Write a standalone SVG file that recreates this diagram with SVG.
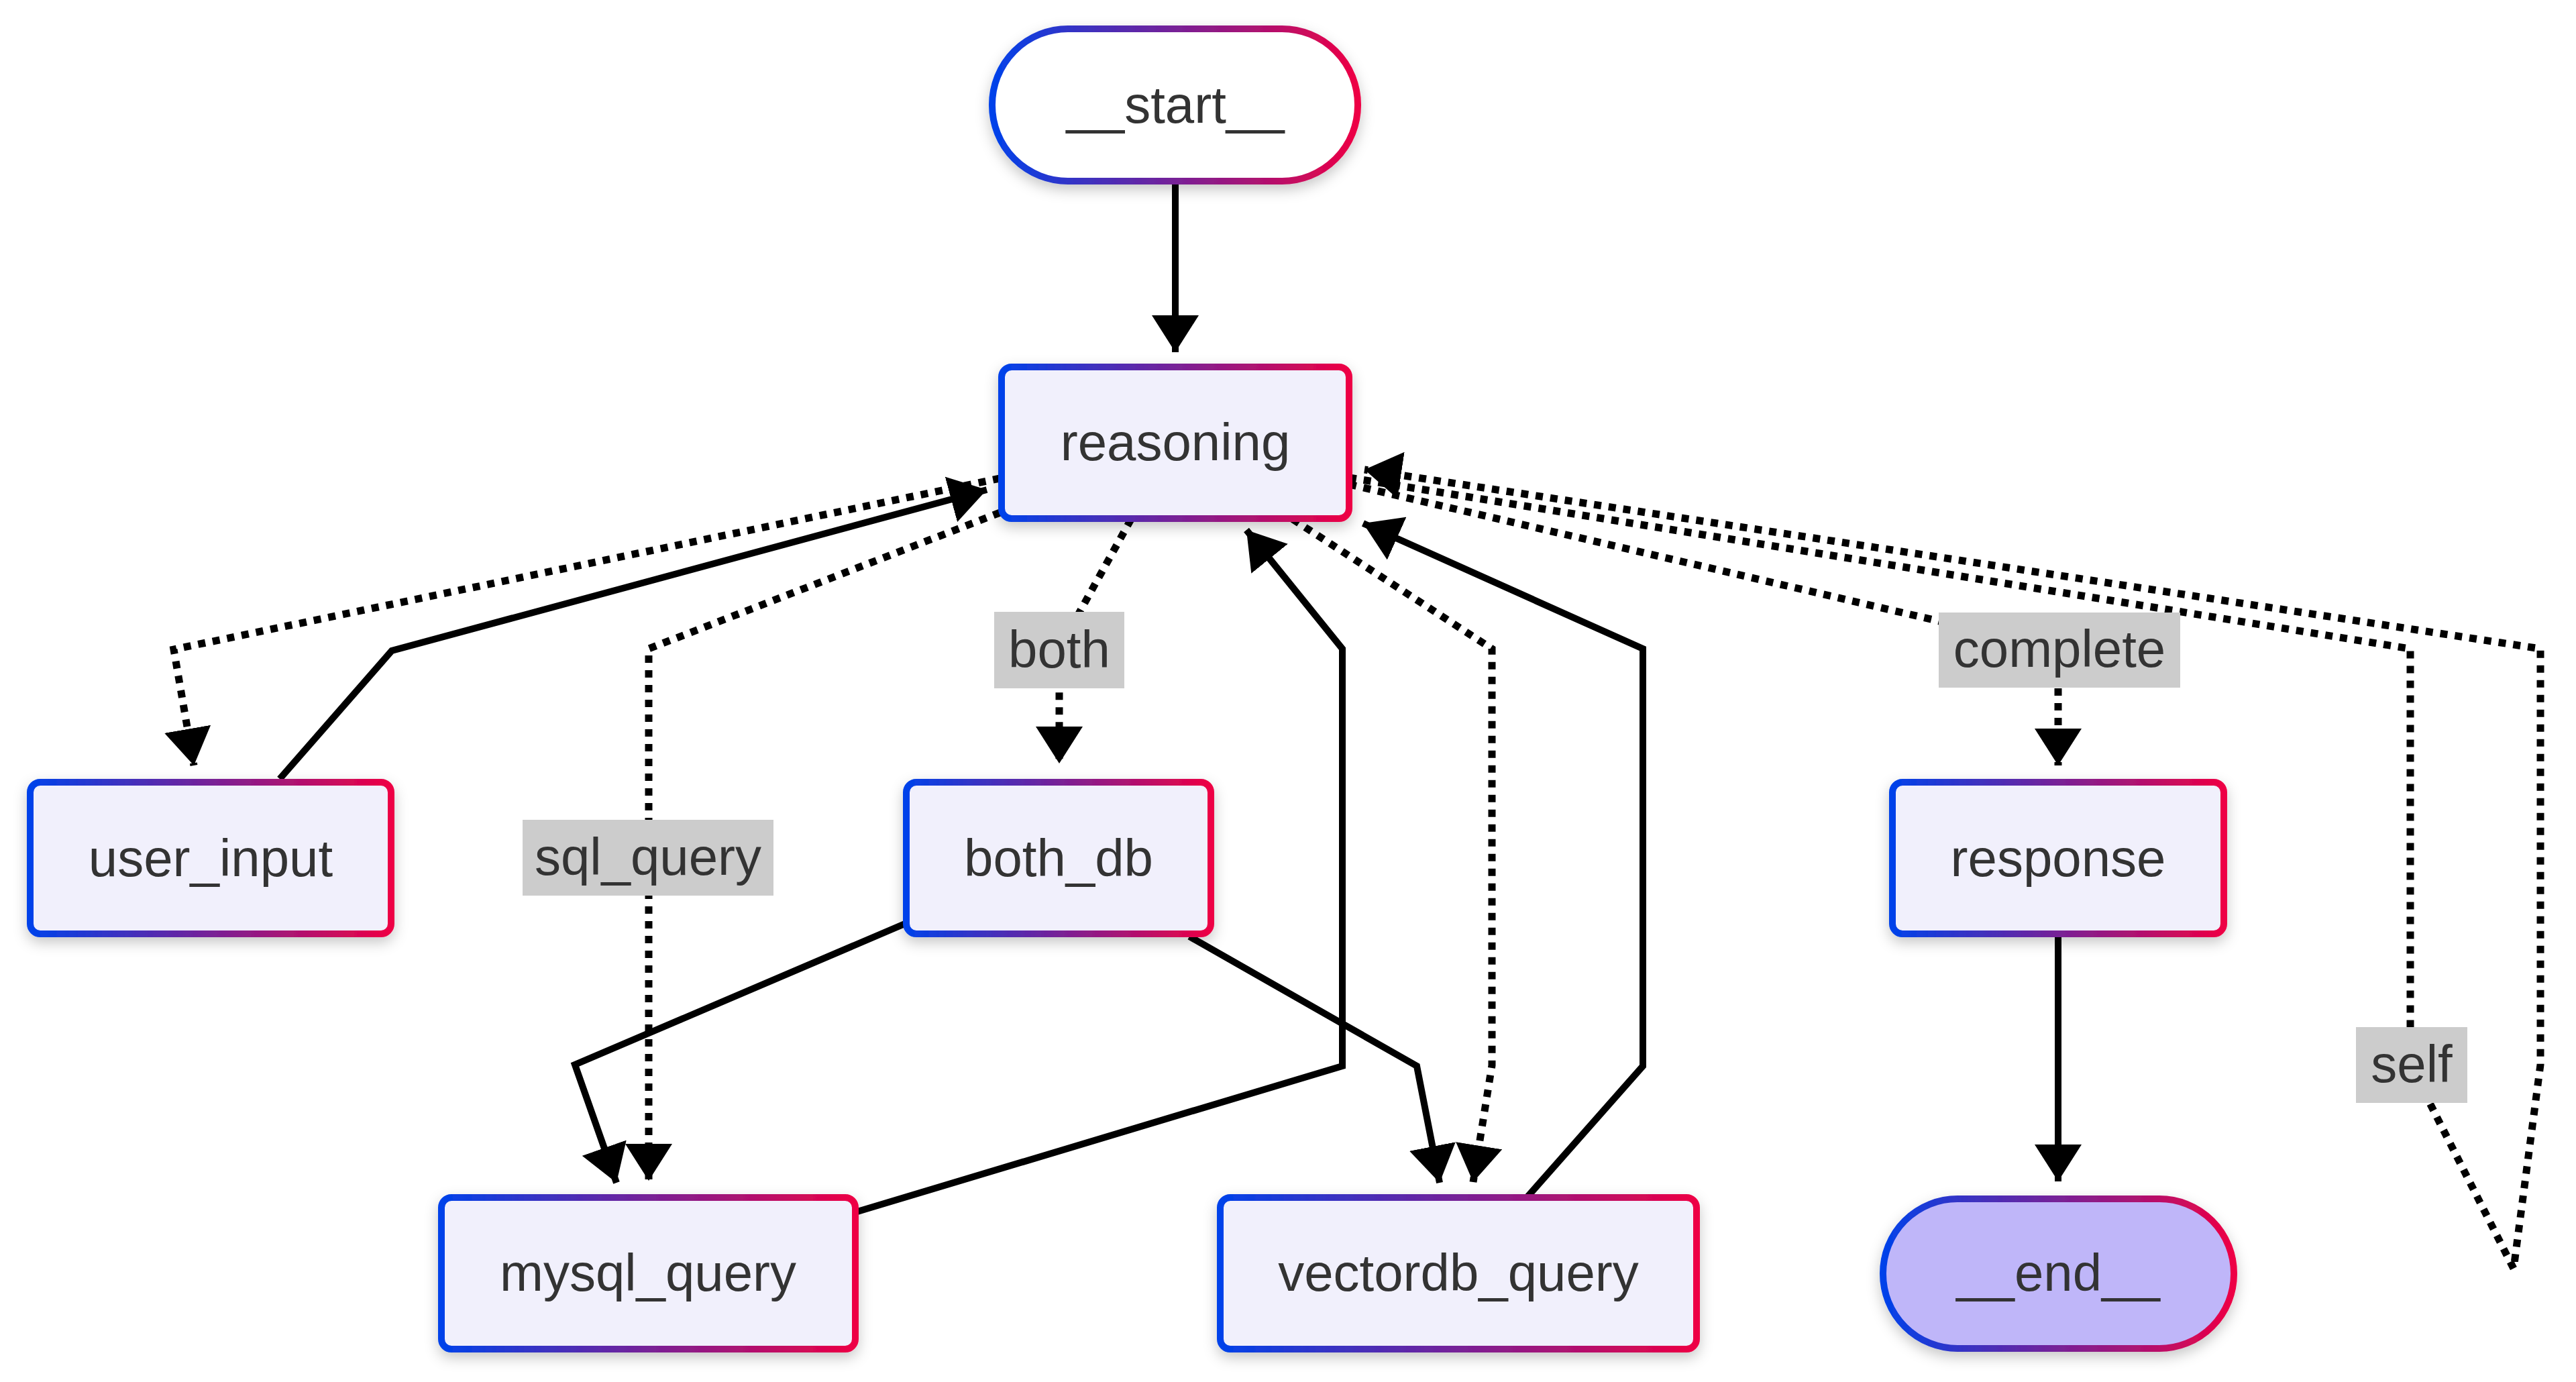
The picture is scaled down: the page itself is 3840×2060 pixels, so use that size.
<svg xmlns="http://www.w3.org/2000/svg" width="3840" height="2060" viewBox="0 0 3840 2060">
<defs>
<linearGradient id="g" x1="0" y1="0" x2="1" y2="0">
<stop offset="0" stop-color="#0042ea"/>
<stop offset="1" stop-color="#ee0044"/>
</linearGradient>
<filter id="sh" x="-20%" y="-30%" width="140%" height="170%">
<feDropShadow dx="0" dy="8" stdDeviation="10" flood-color="#000" flood-opacity="0.22"/>
</filter>
<marker id="arr" viewBox="0 0 55 70" refX="55" refY="35" markerWidth="55" markerHeight="70" markerUnits="userSpaceOnUse" orient="auto">
<path d="M0,0 L55,35 L0,70 Z" fill="#000"/>
</marker>
</defs>
<style>
.node{fill:#f1f0fc;stroke:url(#g);stroke-width:10;filter:url(#sh)}
.t{font-family:"Liberation Sans",Arial,sans-serif;font-size:78px;fill:#333;text-anchor:middle}
.e{fill:none;stroke:#000;stroke-width:10;stroke-linejoin:miter}
.d{stroke-width:11;stroke-dasharray:11 11}
.lb{fill:#cccccc}
</style>
<rect width="3840" height="2060" fill="#fff"/>
<g id="connectors">
<path class="e" d="M1752,270 L1752,525" marker-end="url(#arr)"/>
<path class="e d" d="M1491,713 L259,968 L289,1141" marker-end="url(#arr)"/>
<path class="e" d="M417,1161 L584,970 L1471,730" marker-end="url(#arr)"/>
<path class="e d" d="M1491,764 L967,967 L967,1760" marker-end="url(#arr)"/>
<path class="e d" d="M1686,774 L1579,967 L1579,1138" marker-end="url(#arr)"/>
<path class="e d" d="M1927,774 L2224,967 L2224,1588 L2196,1762" marker-end="url(#arr)"/>
<path class="e" d="M1351,1376 L857,1587 L919,1763" marker-end="url(#arr)"/>
<path class="e" d="M1773,1396 L2112,1589 L2146,1763" marker-end="url(#arr)"/>
<path class="e" d="M1278,1806 L2001,1589 L2001,967 L1858,790" marker-end="url(#arr)"/>
<path class="e" d="M2276,1785 L2449,1589 L2449,967 L2032,780" marker-end="url(#arr)"/>
<path class="e d" d="M2011,722 L3068,967 L3068,1141" marker-end="url(#arr)"/>
<path class="e d" d="M2011,712 L3593,967 L3593,1587 L3747,1891 L3787,1587 L3787,967 L2034,700" marker-end="url(#arr)"/>
<path class="e" d="M3068,1390 L3068,1761" marker-end="url(#arr)"/>
</g>
<g id="edge-labels">
<g id="label-both"><rect class="lb" x="1482" y="912" width="194" height="114"/><text class="t" x="1579" y="995">both</text></g>
<g id="label-sql_query"><rect class="lb" x="779" y="1222" width="374" height="113"/><text class="t" x="966" y="1304">sql_query</text></g>
<g id="label-complete"><rect class="lb" x="2890" y="913" width="360" height="112"/><text class="t" x="3070" y="994">complete</text></g>
<g id="label-self"><rect class="lb" x="3512" y="1531" width="166" height="113"/><text class="t" x="3595" y="1613">self</text></g>
</g>
<g id="node-start"><rect class="node" x="1479" y="43" width="545" height="227" rx="113" ry="113" style="fill:#ffffff"/><text class="t" x="1752" y="183">__start__</text></g>
<g id="node-reasoning"><rect class="node" x="1493" y="547" width="518" height="226" rx="15" ry="15"/><text class="t" x="1752" y="686">reasoning</text></g>
<g id="node-user_input"><rect class="node" x="45" y="1166" width="538" height="226" rx="15" ry="15"/><text class="t" x="314" y="1306">user_input</text></g>
<g id="node-both_db"><rect class="node" x="1351" y="1166" width="454" height="226" rx="15" ry="15"/><text class="t" x="1578" y="1306">both_db</text></g>
<g id="node-response"><rect class="node" x="2821" y="1166" width="494" height="226" rx="15" ry="15"/><text class="t" x="3068" y="1306">response</text></g>
<g id="node-mysql_query"><rect class="node" x="658" y="1785" width="617" height="226" rx="15" ry="15"/><text class="t" x="966" y="1924">mysql_query</text></g>
<g id="node-vectordb_query"><rect class="node" x="1819" y="1785" width="710" height="226" rx="15" ry="15"/><text class="t" x="2174" y="1924">vectordb_query</text></g>
<g id="node-end"><rect class="node" x="2807" y="1787" width="523" height="223" rx="111" ry="111" style="fill:#bfb6f9"/><text class="t" x="3068" y="1924">__end__</text></g>
</svg>
